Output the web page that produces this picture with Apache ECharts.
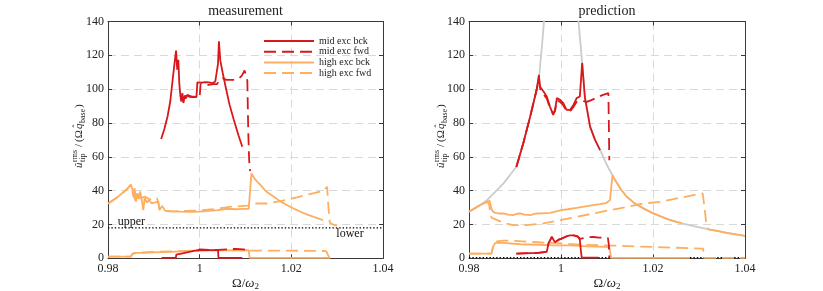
<!DOCTYPE html>
<html><head><meta charset="utf-8">
<script src="https://cdn.jsdelivr.net/npm/echarts@6/dist/echarts.min.js"></script>
<style>html,body{margin:0;padding:0;background:#fff}#c{width:823px;height:291px}</style>
</head><body><div id="c"></div><script>
// ---------- data (x = Omega/omega2, y = normalised tip amplitude) ----------
const seriesNames = ['mid exc bck','mid exc fwd','high exc bck','high exc fwd'];
const xTicks = [0.98, 1.00, 1.02, 1.04];
const yTicks = [0, 20, 40, 60, 80, 100, 120, 140];

// measurement panel
const measMidBckUpper = [[0.9916,70.5],[0.9923,76.5],[0.9930,84],[0.9936,93],[0.9941,105.5],[0.9945,115],[0.99485,122.8],[0.9951,111.5],[0.99535,117.4],[0.99555,103.6],[0.9958,95.7],[0.9960,92.7],[0.99623,97.7],[0.99645,91.8],[0.99674,95.7],[0.9970,94.5],[0.99733,96.7],[0.9977,95.5],[0.99804,95.7],[0.9985,95.3],[0.9993,95.3],[0.9995,104],[0.9998,104.5],[1.0005,103.8],[1.0012,104.2],[1.0020,104],[1.0028,103.5],[1.0034,104.5],[1.0038,105],[1.0040,115],[1.0042,128.3],[1.0045,117],[1.0050,110],[1.00565,101.6],[1.0065,91],[1.00746,81.8],[1.0085,72.5],[1.0093,66]];
const measMidFwdUpper = [[0.9965,95.7],[0.9975,96.3],[0.9985,95.5],[1.0000,95.5],[1.0002,103],[1.0010,102.5],[1.0020,102.5],[1.0030,103],[1.0038,103],[1.0042,105],[1.0050,106.5],[1.0058,105.5],[1.0068,105.5],[1.0078,105.5],[1.0085,106],[1.0092,108],[1.0098,111],[1.0102,112],[1.0104,105],[1.0106,75],[1.0108,58],[1.0110,51.5]];
const measMidBckLower = [[0.9917,0.3],[0.9948,0.3],[0.9949,2.2],[0.9960,2.8],[0.9975,3.6],[0.9990,4.5],[1.0000,4.8],[1.0020,4.8],[1.0040,4.8],[1.0041,0.3],[1.0093,0.3]];
const measMidFwdLower = [[0.9995,4.5],[1.0000,5.3],[1.0020,5.0],[1.0040,5.0],[1.0060,5.3],[1.0080,5.6],[1.0095,5.3],[1.0103,5.0]];
const measHighBckUpper = [[0.9800,32.4],[0.9820,36],[0.9840,40.5],[0.9850,43.5],[0.9853,41],[0.9856,36],[0.9858,41.5],[0.9861,33.5],[0.9864,38.5],[0.9867,35],[0.9870,39.5],[0.9874,34],[0.9877,28.5],[0.9880,35.5],[0.9885,33],[0.9890,34.5],[0.9895,32.5],[0.9903,33],[0.9910,33.5],[0.9912,28.5],[0.9918,31],[0.9925,28],[0.9940,27.8],[0.9960,27.6],[0.9980,27.5],[1.0000,27.6],[1.0020,28],[1.0040,28.5],[1.0060,29.3],[1.0080,29],[1.0095,29.2],[1.0107,29.2],[1.0110,40],[1.0113,50.2],[1.0120,47],[1.0133,43.3],[1.0145,39.5],[1.0162,36.4],[1.0175,33.8],[1.0191,31.4],[1.0205,29.4],[1.0220,27.5],[1.0235,25.8],[1.0249,24.5],[1.0260,23.5],[1.0269,22.5]];
const measHighFwdUpper = [[0.9800,32.4],[0.9820,36],[0.9840,40.5],[0.9850,43.5],[0.9856,37],[0.9860,34],[0.9866,36.5],[0.9872,35.5],[0.9880,36.5],[0.9890,35],[0.9900,34.5],[0.9907,35.5],[0.9912,30],[0.9920,28],[0.9940,27.8],[0.9970,28],[1.0000,28.3],[1.0030,29],[1.0050,29.8],[1.0070,30.6],[1.0090,30.8],[1.0105,31.2],[1.0115,32.4],[1.0147,32.4],[1.0176,33.8],[1.0212,36],[1.0241,38],[1.0270,39.9],[1.0278,42.3],[1.0281,30],[1.0284,21],[1.0292,19.8],[1.0300,19.5]];
const measHighBckLower = [[0.9800,1],[0.9850,1],[0.9853,2.5],[0.9860,3.2],[0.9880,3.2],[0.9900,3.5],[0.9950,4],[1.0000,4.5],[1.0050,4.7],[1.0107,4.8],[1.0109,0.3],[1.0285,0.3]];
const measHighFwdLower = [[0.9800,1],[0.9850,1],[0.9853,2.8],[0.9870,3.5],[0.9900,3.8],[0.9950,4.2],[1.0000,4.6],[1.0050,4.8],[1.0100,4.7],[1.0115,4.5],[1.0200,4.5],[1.0276,4.3],[1.0280,2],[1.0283,0.3]];
const measThreshold = 18;

// prediction panel
const predGreyLeft = [[0.9800,27.5],[0.9820,30.8],[0.9839,34.4],[0.9857,39.3],[0.9875,44.3],[0.9890,49.5],[0.9902,53.8],[0.9918,68],[0.9933,83.8],[0.9947,99.6],[0.9953,109],[0.9956,118],[0.9960,130],[0.9963,140],[0.9965,148]];
const predGreyRight = [[1.0036,148],[1.0038,140],[1.0042,128],[1.0046,115.5],[1.0052,95],[1.0058,86],[1.0063,78],[1.0074,70],[1.0085,64],[1.0092,60],[1.0100,55],[1.0108,51],[1.0115,47.5],[1.0120,45.2],[1.0130,40.8],[1.0143,36.4],[1.0160,32.5],[1.0179,29.5],[1.0197,27],[1.0215,24.9],[1.0233,23],[1.0251,21.5],[1.0270,20.2],[1.0288,19],[1.0306,18],[1.0324,17],[1.0342,16],[1.0360,15],[1.0380,14.1],[1.0400,13.2]];
const predMidBckUpper = [[0.9903,54],[0.9918,68],[0.9933,83.8],[0.9947,99.6],[0.9952,108.5],[0.9954,101.6],[0.9962,98.6],[0.9969,95.7],[0.9976,89.7],[0.9983,84.8],[0.9987,87.8],[0.9991,94.7],[0.9998,93.7],[1.0005,91.8],[1.0012,87.8],[1.0020,87.8],[1.0027,90.7],[1.0034,94.7],[1.0041,95.7],[1.0046,115.5],[1.0052,95],[1.0058,86],[1.0063,78],[1.0074,70],[1.0085,64]];
const predMidFwdUpper = [[0.9903,54],[0.9918,68],[0.9933,83.8],[0.9947,99.6],[0.9952,106],[0.9955,100],[0.9962,97],[0.9969,94.5],[0.9976,89],[0.9983,85.5],[0.9987,87],[0.9991,93.5],[0.9998,92.5],[1.0005,90.5],[1.0012,87],[1.0020,87],[1.0027,89.5],[1.0034,92.5],[1.0041,92.7],[1.0048,93],[1.0056,92.5],[1.0066,93.5],[1.0078,95],[1.0090,96.5],[1.0103,97.7],[1.0104,80],[1.0105,58]];
const predMidBckLower = [[0.9903,2.8],[0.9950,3.2],[0.9969,3.8],[0.9973,9],[0.9977,11],[0.9980,12.6],[0.9983,11.5],[0.9987,9.5],[0.9990,10.5],[0.9995,11],[1.0000,11.5],[1.0009,12.6],[1.0015,13.3],[1.0020,13.6],[1.0027,13.6],[1.0032,13.3],[1.0037,12.8],[1.0041,11],[1.0043,5],[1.0045,0.4],[1.0081,0.4]];
const predMidFwdLower = [[0.9903,2.8],[0.9950,3.2],[0.9969,3.8],[0.9973,9],[0.9977,11],[0.9980,12.6],[0.9983,11.5],[0.9987,9.5],[0.9990,10.5],[0.9995,11],[1.0000,11.5],[1.0009,12.6],[1.0015,13.3],[1.0020,13.6],[1.0027,13.6],[1.0032,13.3],[1.0037,12.8],[1.0041,11.5],[1.0045,12],[1.0060,12.5],[1.0070,12.6],[1.0083,12.2],[1.0095,12.2],[1.0102,12],[1.0104,8],[1.0105,0.4]];
const predHighBckUpper = [[0.9800,27.5],[0.9820,30.8],[0.9840,33.5],[0.9845,34],[0.9848,30],[0.9851,28],[0.9856,26.9],[0.9865,26.5],[0.9875,26.5],[0.9885,25.8],[0.9896,25.5],[0.9903,26.2],[0.9911,26.5],[0.9920,25.8],[0.9933,25.5],[0.9947,26.5],[0.9960,26.6],[0.9976,26.9],[0.9990,27.8],[1.0000,28.5],[1.0015,29],[1.0034,29.8],[1.0050,30.5],[1.0070,31.4],[1.0085,32],[1.0099,32.8],[1.01065,34.4],[1.0110,44],[1.0112,49],[1.0115,47.5],[1.0120,45.2],[1.0130,40.8],[1.0143,36.4],[1.0160,32.5],[1.0179,29.5],[1.0197,27],[1.0215,24.9],[1.0233,23],[1.0251,21.5],[1.0262,20.8]];
const predHighBckTail = [[1.0320,17.1],[1.0342,16],[1.0360,15],[1.0380,14.1],[1.0400,13.2]];
const predHighFwdUpper = [[0.9800,27.5],[0.9820,30.8],[0.9840,33.5],[0.9844,31.4],[0.9846,27],[0.9849,24],[0.9853,24.5],[0.9875,21],[0.9896,19.6],[0.9925,19.6],[0.9962,20.6],[0.9998,22.5],[1.0034,24.5],[1.0070,26.5],[1.0107,28.5],[1.0143,30.4],[1.0179,32.4],[1.0215,33.4],[1.0252,35.4],[1.0288,37.4],[1.0308,38.4],[1.0312,30],[1.0316,20],[1.0320,17]];
const predHighBckLower = [[0.9800,2.8],[0.9849,2.8],[0.9852,6.7],[0.9857,9.1],[0.9875,9.1],[0.9911,8.3],[0.9950,8],[0.9983,7.7],[1.0020,7.7],[1.0056,7.1],[1.0099,6.7],[1.0105,6.5],[1.0109,0.3],[1.0280,0.3]];
const predHighFwdLower = [[0.9800,2.8],[0.9849,2.8],[0.9853,8],[0.9860,10],[0.9875,10.5],[0.9900,10.3],[0.9950,9.5],[1.0000,8.8],[1.0050,8],[1.0114,7.5],[1.0200,6.7],[1.0309,5.7],[1.0311,0.3],[1.0400,0.3]];
const predThreshold = 0.4;

// ---------- styling ----------
const FONT = 'Liberation Serif';
const RED = '#d7191c', ORANGE = '#fdae61', GREY = '#cccccc', AXIS = '#3a3a3a', TXT = '#222';
const DASH = [12, 6];

function line(name, data, color, dashed, gi, z, width) {
  return {
    type: 'line', name: name, data: data, xAxisIndex: gi * 2, yAxisIndex: gi * 2,
    symbol: 'none', showSymbol: false, silent: true, z: z, clip: true,
    legendIcon: 'path://M0,0L1,0',
    lineStyle: { color: color, width: width || 1.8, type: dashed ? DASH : 'solid' },
    itemStyle: { color: color }
  };
}
function xAxes(gi) {
  return [{
    gridIndex: gi, type: 'value', min: xTicks[0], max: xTicks[xTicks.length - 1], interval: 0.02,
    axisLine: { show: true, onZero: false, lineStyle: { color: AXIS, width: 1 } },
    axisTick: { show: true, inside: true, length: 4, lineStyle: { color: AXIS } },
    axisLabel: { fontFamily: FONT, fontSize: 12, color: TXT, margin: 5,
      formatter: v => String(Math.round(v * 100) / 100) },
    splitLine: { show: true, lineStyle: { color: '#d9d9d9', type: [8, 5], width: 1 } },
    name: '{a|Ω/}{b|ω}{c|2}', nameLocation: 'middle', nameGap: 17, nameMoveOverlap: false,
    nameTextStyle: { fontFamily: FONT, color: TXT, fontSize: 13,
      rich: { a: { fontFamily: FONT, fontSize: 13, color: TXT, lineHeight: 16 },
              b: { fontFamily: FONT, fontSize: 13, fontStyle: 'italic', color: TXT, lineHeight: 16 },
              c: { fontFamily: FONT, fontSize: 9, color: TXT, verticalAlign: 'bottom', lineHeight: 11 } } }
  }, {
    gridIndex: gi, type: 'value', position: 'top', min: xTicks[0], max: xTicks[xTicks.length - 1], interval: 0.02,
    axisLine: { show: true, onZero: false, lineStyle: { color: AXIS, width: 1 } },
    axisTick: { show: true, inside: true, length: 4, lineStyle: { color: AXIS } },
    axisLabel: { show: false }, splitLine: { show: false }
  }];
}
function yAxes(gi) {
  return [{
    gridIndex: gi, type: 'value', min: yTicks[0], max: yTicks[yTicks.length - 1], interval: 20,
    axisLine: { show: true, onZero: false, lineStyle: { color: AXIS, width: 1 } },
    axisTick: { show: true, inside: true, length: 4, lineStyle: { color: AXIS } },
    axisLabel: { fontFamily: FONT, fontSize: 12, color: TXT, margin: 4 },
    splitLine: { show: true, lineStyle: { color: '#d9d9d9', type: [8, 5], width: 1 } }
  }, {
    gridIndex: gi, type: 'value', position: 'right', min: yTicks[0], max: yTicks[yTicks.length - 1], interval: 20,
    axisLine: { show: true, onZero: false, lineStyle: { color: AXIS, width: 1 } },
    axisTick: { show: true, inside: true, length: 4, lineStyle: { color: AXIS } },
    axisLabel: { show: false }, splitLine: { show: false }
  }];
}
function txt(s, x, y, size, italic) {
  return { type: 'text', style: { text: s, x: x, y: y, fill: TXT,
    font: (italic ? 'italic ' : '') + size + 'px "' + FONT + '"', textAlign: 'left', textVerticalAlign: 'middle' } };
}
function yLabel(cx, cy) {
  return { type: 'group', x: cx, y: cy, rotation: Math.PI / 2, silent: true, children: [
    txt('û', -32, 0, 11, true), txt('rms', -26, -4, 8), txt('tip', -26, 4, 8),
    txt('/', -11, 0, 11), txt('(Ω', -6, 0, 11), txt('q', 7, 0, 11, true), txt('ˆ', 8.5, -2.5, 9),
    txt('base', 13, 4, 8), txt(')', 28, 0, 11)
  ] };
}

const grids = [
  { left: 108, top: 21.5, width: 275, height: 236.8, outerBoundsMode: 'none', containLabel: false },
  { left: 469, top: 21.5, width: 276, height: 236.8, outerBoundsMode: 'none', containLabel: false }
];

const series = [
  // prediction backbone
  line('backbone', predGreyLeft, GREY, false, 1, 1, 1.8),
  line('backbone', predGreyRight, GREY, false, 1, 1, 1.8),
  // thresholds
  Object.assign(line('threshold', [[xTicks[0], measThreshold], [xTicks[3], measThreshold]], '#000', false, 0, 2, 1.4),
    { lineStyle: { color: '#000', width: 1.4, type: [1.4, 2] } }),
  Object.assign(line('threshold', [[xTicks[0], predThreshold], [xTicks[3], predThreshold]], '#000', false, 1, 2, 1.4),
    { lineStyle: { color: '#000', width: 1.4, type: [1.4, 2] } }),
  // measurement
  line('mid exc bck', measMidBckUpper, RED, false, 0, 5),
  line('mid exc fwd', measMidFwdUpper, RED, true, 0, 5),
  line('high exc bck', measHighBckUpper, ORANGE, false, 0, 4),
  line('high exc fwd', measHighFwdUpper, ORANGE, true, 0, 4),
  line('mid exc bck', measMidBckLower, RED, false, 0, 5),
  line('mid exc fwd', measMidFwdLower, RED, true, 0, 5),
  line('high exc bck', measHighBckLower, ORANGE, false, 0, 4),
  line('high exc fwd', measHighFwdLower, ORANGE, true, 0, 4),
  // prediction
  line('high exc bck', predHighBckUpper, ORANGE, false, 1, 4),
  line('high exc bck', predHighBckTail, ORANGE, false, 1, 4),
  line('high exc fwd', predHighFwdUpper, ORANGE, true, 1, 4),
  line('high exc bck', predHighBckLower, ORANGE, false, 1, 4),
  line('high exc fwd', predHighFwdLower, ORANGE, true, 1, 4),
  line('mid exc bck', predMidBckUpper, RED, false, 1, 5),
  line('mid exc fwd', predMidFwdUpper, RED, true, 1, 5),
  line('mid exc bck', predMidBckLower, RED, false, 1, 5),
  line('mid exc fwd', predMidFwdLower, RED, true, 1, 5),
  // threshold labels
  { type: 'scatter', name: 'labels', xAxisIndex: 0, yAxisIndex: 0, symbolSize: 1, silent: true, z: 6,
    itemStyle: { color: 'rgba(0,0,0,0)' },
    label: { show: true, position: 'inside', fontFamily: FONT, fontSize: 12, color: '#111', opacity: 1, formatter: p => p.name },
    data: [{ name: 'upper', value: [0.9851, 21.5] }, { name: 'lower', value: [1.0328, 14.6] }] }
];

const chart = echarts.init(document.getElementById('c'), null, { renderer: 'canvas' });
chart.setOption({
  animation: false,
  backgroundColor: '#fff',
  grid: grids,
  xAxis: xAxes(0).concat(xAxes(1)),
  yAxis: yAxes(0).concat(yAxes(1)),
  legend: {
    data: seriesNames, orient: 'vertical', left: 263, top: 36, padding: 0,
    itemWidth: 50, itemHeight: 8, itemGap: 0.7, selectedMode: false,
    itemStyle: { opacity: 0 },
    textStyle: { fontFamily: FONT, fontSize: 10, lineHeight: 10, color: TXT, padding: [0, 0, 0, 0] }
  },
  graphic: [
    { type: 'text', silent: true, style: { text: 'measurement', x: 245.5, y: 11.5, textAlign: 'center', textVerticalAlign: 'middle', font: '14px "' + FONT + '"', fill: TXT } },
    { type: 'text', silent: true, style: { text: 'prediction', x: 607, y: 11.5, textAlign: 'center', textVerticalAlign: 'middle', font: '14px "' + FONT + '"', fill: TXT } },
    yLabel(79, 136), yLabel(441, 136)
  ],
  series: series
});
</script></body></html>
